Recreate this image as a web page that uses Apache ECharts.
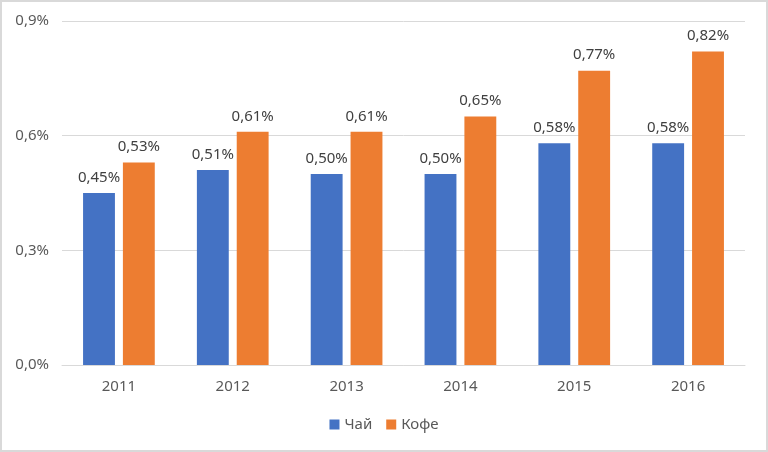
<!DOCTYPE html>
<html><head><meta charset="utf-8">
<script src="https://cdn.jsdelivr.net/npm/echarts@6/dist/echarts.min.js"></script>
<style>html,body{margin:0;padding:0;background:#fff}#c{width:768px;height:452px;box-sizing:border-box;border:2px solid #d9d9d9}</style>
</head><body><div id="c"></div>
<script>
const categories = ['2011','2012','2013','2014','2015','2016'];
const tea = [0.45,0.51,0.50,0.50,0.58,0.58];
const coffee = [0.53,0.61,0.61,0.65,0.77,0.82];
const seriesNames = ['Чай','Кофе'];
const fmt = v => v.toFixed(2).replace('.', ',') + '%';
const chart = echarts.init(document.getElementById('c'));
const font = 'Noto Sans';
const lbl = {show:true,position:'top',distance:8,color:'#404040',fontSize:15,fontFamily:font,formatter:p=>fmt(p.value)};
chart.setOption({
  animation:false,
  grid:{left:60,right:21,top:19,bottom:85},
  legend:{bottom:13,left:'center',itemWidth:10,itemHeight:10,itemGap:14,icon:'rect',textStyle:{color:'#595959',fontSize:15,fontFamily:font},data:seriesNames},
  xAxis:{type:'category',data:categories,axisLine:{lineStyle:{color:'#d9d9d9'}},axisTick:{show:false},axisLabel:{color:'#595959',fontSize:15,fontFamily:font,margin:14}},
  yAxis:{type:'value',min:0,max:0.9,interval:0.3,axisLabel:{color:'#595959',fontSize:15,fontFamily:font,margin:13,formatter:v=>v.toFixed(1).replace('.',',')+'%'},splitLine:{lineStyle:{color:'#d9d9d9'}},axisLine:{show:false},axisTick:{show:false}},
  series:[
    {name:seriesNames[0],type:'bar',data:tea,barWidth:'28%',barGap:'25%',itemStyle:{color:'#4472c4'},label:lbl},
    {name:seriesNames[1],type:'bar',data:coffee,barWidth:'28%',itemStyle:{color:'#ed7d31'},label:lbl}
  ]
});
</script></body></html>
